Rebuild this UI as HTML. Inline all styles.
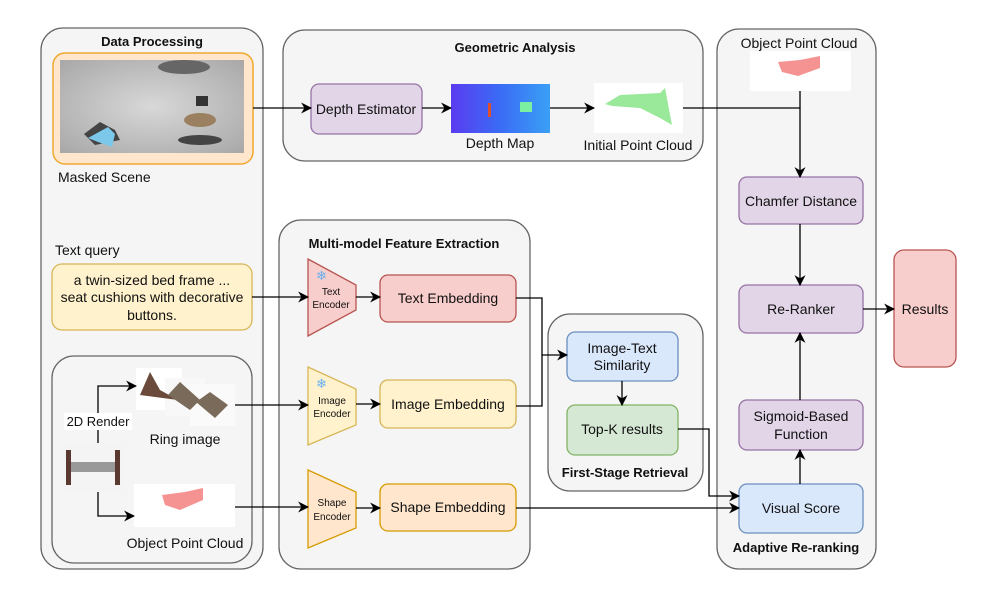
<!DOCTYPE html>
<html><head><meta charset="utf-8"><style>body{margin:0;background:#fff}svg{display:block}text{font-family:"Liberation Sans",sans-serif;fill:#111}</style></head><body>
<svg width="997" height="598" viewBox="0 0 997 598" xmlns="http://www.w3.org/2000/svg">
<defs><marker id="a" viewBox="0 0 10 10" refX="9" refY="5" markerWidth="11" markerHeight="11" orient="auto" markerUnits="userSpaceOnUse"><path d="M0,0 L10,5 L0,10 L3,5 z" fill="#000"/></marker>
<linearGradient id="dm" x1="0" x2="1"><stop offset="0" stop-color="#5a3cf0"/><stop offset="0.5" stop-color="#3a6cf5"/><stop offset="1" stop-color="#3aa0f5"/></linearGradient>
<radialGradient id="sc" cx="0.5" cy="0.5" r="0.7"><stop offset="0" stop-color="#d8d8d8"/><stop offset="1" stop-color="#a8a8a8"/></radialGradient></defs>
<g stroke="#666" stroke-width="1.3" fill="#f5f5f5">
<rect x="41" y="28" width="222" height="541" rx="22"/>
<rect x="283" y="30" width="420" height="131" rx="22"/>
<rect x="717" y="29" width="159" height="540" rx="22"/>
<rect x="279" y="220" width="251" height="349" rx="22"/>
<rect x="548" y="314" width="155" height="177" rx="22"/>
<rect x="52" y="356" width="200" height="207" rx="22"/>
</g>
<text x="152" y="46" font-size="13" font-weight="bold" text-anchor="middle">Data Processing</text>
<text x="515" y="52" font-size="13" font-weight="bold" text-anchor="middle">Geometric Analysis</text>
<text x="404" y="248" font-size="13" font-weight="bold" text-anchor="middle">Multi-model Feature Extraction</text>
<text x="625" y="477" font-size="13" font-weight="bold" text-anchor="middle">First-Stage Retrieval</text>
<text x="796" y="552" font-size="13" font-weight="bold" text-anchor="middle">Adaptive Re-ranking</text>
<!-- masked scene -->
<rect x="53" y="53" width="200" height="111" rx="12" fill="#ffe6cc" stroke="#f0a830" stroke-width="1.5"/>
<rect x="60" y="60" width="184" height="93" fill="url(#sc)"/>
<ellipse cx="184" cy="67" rx="26" ry="7" fill="#666"/>
<path d="M84,134 L100,122 L115,130 L120,140 L95,145z" fill="#444"/>
<path d="M88,138 L108,127 L115,134 L112,147 L98,142z" fill="#7cc8ea"/>
<rect x="196" y="96" width="12" height="10" fill="#333"/>
<ellipse cx="200" cy="120" rx="16" ry="7" fill="#9a8060"/>
<ellipse cx="200" cy="140" rx="22" ry="5" fill="#444"/>
<text x="58" y="182" font-size="14">Masked Scene</text>
<!-- geometric -->
<rect x="311" y="84" width="111" height="50" rx="8" fill="#e1d5e7" stroke="#9673a6" stroke-width="1.3"/>
<text x="366" y="114" font-size="14" text-anchor="middle">Depth Estimator</text>
<rect x="451" y="84" width="99" height="49" fill="url(#dm)"/>
<rect x="488" y="103" width="3" height="14" fill="#e0502a"/>
<rect x="520" y="102" width="12" height="10" fill="#7af0a0"/>
<text x="500" y="148" font-size="14" text-anchor="middle">Depth Map</text>
<rect x="594" y="83" width="89" height="50" fill="#fff"/>
<path d="M605,104 L620,95 L660,93 L665,88 L672,125 L660,118 L640,108 L612,106z" fill="#6fe06f" opacity="0.7"/>
<text x="638" y="150" font-size="14" text-anchor="middle">Initial Point Cloud</text>
<!-- adaptive -->
<text x="799" y="48" font-size="14" text-anchor="middle">Object Point Cloud</text>
<rect x="750" y="51" width="101" height="40" fill="#fff"/>
<path d="M778,62 L800,60 L820,56 L820,68 L798,76 L782,72z" fill="#ee4a4a" opacity="0.6"/>
<g stroke-width="1.3">
<rect x="739" y="177" width="124" height="47" rx="8" fill="#e1d5e7" stroke="#9673a6"/>
<rect x="739" y="285" width="124" height="48" rx="8" fill="#e1d5e7" stroke="#9673a6"/>
<rect x="739" y="400" width="124" height="50" rx="8" fill="#e1d5e7" stroke="#9673a6"/>
<rect x="739" y="484" width="124" height="49" rx="8" fill="#dae8fc" stroke="#6c8ebf"/>
<rect x="894" y="250" width="62" height="117" rx="10" fill="#f8cecc" stroke="#b85450"/>
<rect x="567" y="332" width="111" height="49" rx="8" fill="#dae8fc" stroke="#6c8ebf"/>
<rect x="567" y="405" width="111" height="50" rx="8" fill="#d5e8d4" stroke="#82b366"/>
<rect x="52" y="264" width="200" height="66" rx="10" fill="#fff2cc" stroke="#d6b656"/>
<rect x="380" y="275" width="136" height="47" rx="8" fill="#f8cecc" stroke="#b85450"/>
<rect x="380" y="380" width="136" height="48" rx="8" fill="#fff2cc" stroke="#d6b656"/>
<rect x="380" y="484" width="136" height="47" rx="8" fill="#ffe6cc" stroke="#d79b00"/>
<path d="M308,259 L356,285 L356,310 L308,336z" fill="#f8cecc" stroke="#b85450"/>
<path d="M308,367 L356,389 L356,425 L308,445z" fill="#fff2cc" stroke="#d6b656"/>
<path d="M308,470 L356,492 L356,528 L308,548z" fill="#ffe6cc" stroke="#d79b00"/>
</g>
<g font-size="14" text-anchor="middle">
<text x="801" y="206">Chamfer Distance</text>
<text x="801" y="314">Re-Ranker</text>
<text x="801" y="421">Sigmoid-Based</text>
<text x="801" y="439">Function</text>
<text x="801" y="513">Visual Score</text>
<text x="925" y="314">Results</text>
<text x="622" y="353">Image-Text</text>
<text x="622" y="370">Similarity</text>
<text x="622" y="434">Top-K results</text>
<text x="448" y="303">Text Embedding</text>
<text x="448" y="409">Image Embedding</text>
<text x="448" y="512">Shape Embedding</text>
<text x="152" y="285">a twin-sized bed frame ...</text>
<text x="152" y="302">seat cushions with decorative</text>
<text x="152" y="320">buttons.</text>
</g>
<text x="55" y="255" font-size="14">Text query</text>
<g font-size="10" text-anchor="middle">
<text x="331" y="295">Text</text><text x="331" y="308">Encoder</text>
<text x="332" y="404">Image</text><text x="332" y="417">Encoder</text>
<text x="332" y="506">Shape</text><text x="332" y="520">Encoder</text>
</g>
<text x="316" y="280" font-size="13" style="fill:#6ab0f0">❄</text>
<text x="316" y="388" font-size="13" style="fill:#6ab0f0">❄</text>
<!-- ring images -->
<rect x="136" y="368" width="46" height="42" fill="#fff"/>
<rect x="165" y="378" width="40" height="38" fill="#f8f8f8"/>
<rect x="190" y="384" width="45" height="42" fill="#fafafa"/>
<path d="M140,395 L150,372 L160,390 L178,400z" fill="#6a4a3a"/>
<path d="M168,395 L180,382 L200,400 L190,410z" fill="#7a6a5a"/>
<path d="M196,402 L210,392 L228,405 L215,418z" fill="#7a6a5a"/>
<text x="185" y="444" font-size="14" text-anchor="middle">Ring image</text>
<rect x="62" y="443" width="62" height="49" fill="#f4f4f4"/>
<rect x="66" y="450" width="5" height="35" fill="#5a3a30"/><rect x="115" y="450" width="5" height="35" fill="#5a3a30"/>
<rect x="71" y="462" width="44" height="10" fill="#999"/>
<rect x="134" y="484" width="101" height="43" fill="#fff"/>
<path d="M162,495 L185,492 L203,488 L203,500 L180,510 L165,505z" fill="#ee4a4a" opacity="0.6"/>
<text x="185" y="548" font-size="14" text-anchor="middle">Object Point Cloud</text>
<!-- connectors -->
<g stroke="#000" stroke-width="1.3" fill="none" marker-end="url(#a)">
<path d="M253,108 H311"/>
<path d="M422,108 H451"/>
<path d="M550,108 H594"/>
<path d="M683,108 H800 V177"/>
<path d="M800,224 V285"/>
<path d="M800,400 V333"/>
<path d="M800,484 V450"/>
<path d="M863,309 H894"/>
<path d="M252,297 H308"/>
<path d="M356,297 H380"/>
<path d="M356,404 H380"/>
<path d="M356,508 H380"/>
<path d="M516,298 H542 V355 H567"/>
<path d="M622,381 V405"/>
<path d="M678,429 H709 V496 H739"/>
<path d="M516,508 H739"/>
<path d="M235,405 H308"/>
<path d="M235,507 H308"/>
<path d="M98,443 V386 H136"/>
<path d="M98,492 V516 H134"/>
</g>
<path d="M516,406 H542 V355" stroke="#000" stroke-width="1.3" fill="none"/>
<path d="M800,91 V108" stroke="#000" stroke-width="1.3"/>
<rect x="64" y="413" width="68" height="17" fill="#fff"/>
<text x="98" y="426" font-size="13" text-anchor="middle">2D Render</text>
</svg>
</body></html>
